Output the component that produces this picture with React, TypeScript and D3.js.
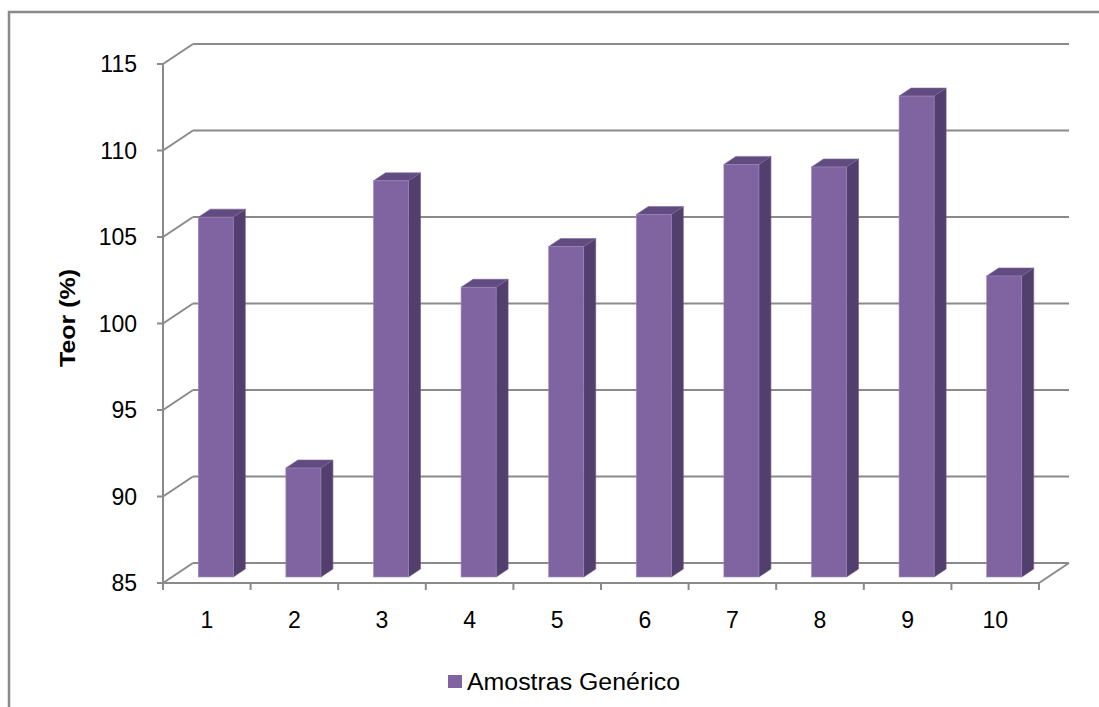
import React from "react";
import * as d3 from "d3";

// Sample labels and measured contents (%)
const categories: string[] = ["1", "2", "3", "4", "5", "6", "7", "8", "9", "10"];
const teor: number[] = [105.8, 91.3, 107.9, 101.75, 104.1, 105.95, 108.85, 108.7, 112.8, 102.4];
const yTicks: number[] = [85, 90, 95, 100, 105, 110, 115];
const seriesName = "Amostras Genérico";
const axisTitle = "Teor (%)";

const W = 1099;
const H = 707;

// Plot frame (front plane) and 3D depth offset of the wall/floor
const left = 163;
const right = 1039;
const top = 64;
const bottom = 583;
const depthX = 30;
const depthY = -20;

// Bars sit between 30% and 70% of the depth
const barFront = 0.3;
const barBack = 0.7;

const FRONT = "#8064a2";
const SIDE = "#533f6e";
const TOP = "#614b80";
const GRID = "#8a8a8a";
const FONT = "'Liberation Sans', Arial, sans-serif";

export default function App() {
  const y = d3.scaleLinear().domain([85, 115]).range([bottom, top]);
  const x = d3
    .scaleBand<string>()
    .domain(categories)
    .range([left, right])
    .paddingInner(0.6)
    .paddingOuter(0.3);
  const step = x.step();
  const bw = x.bandwidth();

  const fx = depthX * barFront;
  const fy = depthY * barFront;
  const bdx = depthX * (barBack - barFront);
  const bdy = depthY * (barBack - barFront);

  const boundaries = d3.range(categories.length + 1).map((i) => left + i * step);

  return (
    <svg
      width={W}
      height={H}
      viewBox={`0 0 ${W} ${H}`}
      style={{ position: "absolute", left: 0, top: 0, background: "#fff" }}
    >
      <rect x={9} y={12} width={W + 20} height={H + 20} fill="#fff" stroke={GRID} strokeWidth={2.5} />

      {/* back wall gridlines with the side-wall diagonals */}
      <g stroke={GRID} strokeWidth={2} fill="none">
        {yTicks.map((t) => (
          <g key={`g${t}`}>
            <line x1={left + depthX} x2={right + depthX} y1={y(t) + depthY} y2={y(t) + depthY} />
            <line x1={left} y1={y(t)} x2={left + depthX} y2={y(t) + depthY} />
          </g>
        ))}
        {/* floor front edge and right diagonal */}
        <line x1={left} x2={right} y1={bottom} y2={bottom} />
        <line x1={right} y1={bottom} x2={right + depthX} y2={bottom + depthY} />
        {/* value axis */}
        <line x1={left} x2={left} y1={top} y2={bottom} />
        {yTicks.map((t) => (
          <line key={`t${t}`} x1={left - 6} x2={left} y1={y(t)} y2={y(t)} />
        ))}
        {boundaries.map((b, i) => (
          <line key={`c${i}`} x1={b} x2={b} y1={bottom} y2={bottom + 7} />
        ))}
      </g>

      {/* bars */}
      <g>
        {categories.map((c, i) => {
          const x0 = (x(c) as number) + fx;
          const x1 = x0 + bw;
          const yb = bottom + fy;
          const yt = y(teor[i]) + fy;
          return (
            <g key={c}>
              <polygon
                points={`${x1},${yt} ${x1 + bdx},${yt + bdy} ${x1 + bdx},${yb + bdy} ${x1},${yb}`}
                fill={SIDE}
                stroke="#6b5a86"
                strokeWidth={0.6}
              />
              <polygon
                points={`${x0},${yt} ${x0 + bdx},${yt + bdy} ${x1 + bdx},${yt + bdy} ${x1},${yt}`}
                fill={TOP}
                stroke="#7a6898"
                strokeWidth={0.6}
              />
              <rect x={x0} y={yt} width={bw} height={yb - yt} fill={FRONT} stroke="#9c8abb" strokeWidth={0.6} />
            </g>
          );
        })}
      </g>

      {/* axis labels */}
      <g fontFamily={FONT} fontSize={23} fill="#000">
        {yTicks.map((t) => (
          <text key={`l${t}`} x={137} y={y(t)} textAnchor="end" dominantBaseline="central">
            {t}
          </text>
        ))}
        {categories.map((c) => (
          <text key={`x${c}`} x={(x(c) as number) + bw / 2} y={628} textAnchor="middle">
            {c}
          </text>
        ))}
      </g>

      <text
        transform={`translate(75,318) rotate(-90)`}
        textAnchor="middle"
        fontFamily={FONT}
        fontSize={22}
        fontWeight="bold"
        fill="#000"
        textLength={98}
        lengthAdjust="spacingAndGlyphs"
      >
        {axisTitle}
      </text>

      {/* legend */}
      <rect x={448} y={675} width={14} height={13} fill={FRONT} />
      <text
        x={467}
        y={690}
        fontFamily={FONT}
        fontSize={23}
        fill="#000"
        textLength={213}
        lengthAdjust="spacingAndGlyphs"
      >
        {seriesName}
      </text>
    </svg>
  );
}
